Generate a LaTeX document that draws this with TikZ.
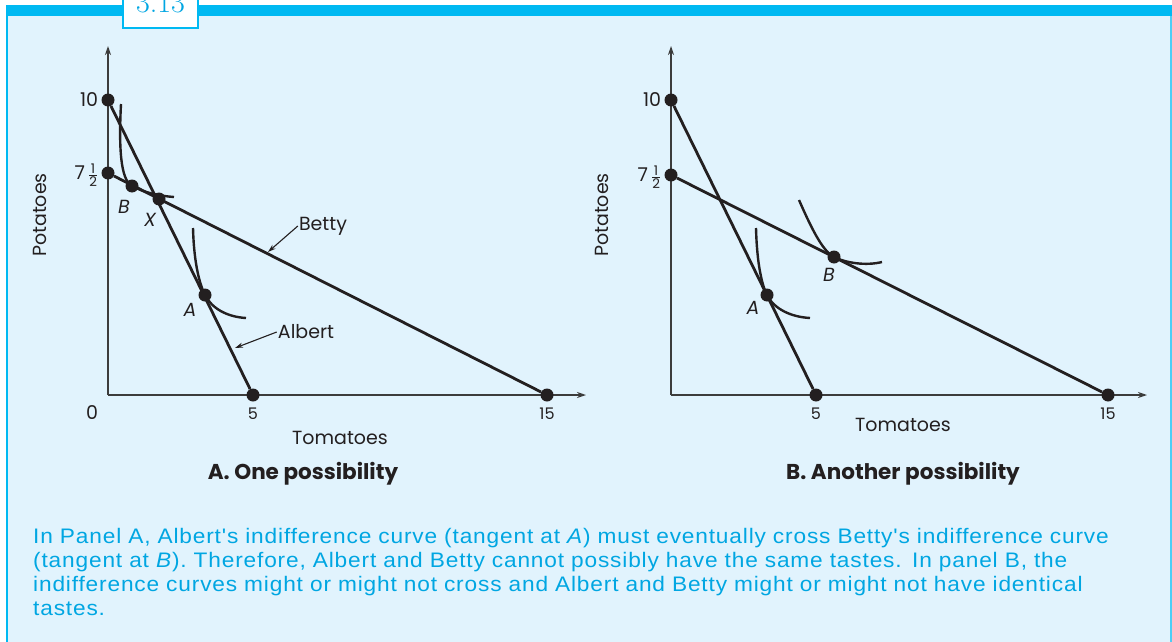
\documentclass[tikz,border=0pt]{standalone}
\usepackage{fontspec}
\usepackage{amsmath}
\usetikzlibrary{arrows.meta, positioning}
\newfontfamily\geofont{Poppins}
\newfontfamily\capfont[FakeStretch=1.08, LetterSpace=4]{Liberation Sans}
\definecolor{panelbg}{HTML}{E1F3FD}
\definecolor{bandcyan}{HTML}{00B9F2}
\definecolor{capcyan}{HTML}{00A6E2}
\definecolor{ink}{HTML}{231F20}
\definecolor{axgray}{HTML}{3C3C3C}
\tikzset{
  dot/.style   ={circle, fill=ink, inner sep=0pt, minimum size=13pt},
  budget/.style={line width=2.8pt, draw=ink},
  indiff/.style={line width=2.4pt, draw=ink},
  axis/.style  ={line width=1.4pt, draw=axgray, -{Stealth[length=9pt, width=6pt]}},
  lblarr/.style={line width=1.1pt, draw=ink, -{Stealth[length=8pt, width=5pt]}},
  lbl/.style   ={font=\geofont\fontsize{19}{21}\selectfont, text=ink, inner sep=1pt},
  ticklbl/.style={lbl, font=\geofont\fontsize{16}{18}\selectfont},
  ptlbl/.style ={font=\geofont\itshape\fontsize{19}{21}\selectfont, text=ink, inner sep=1pt},
  title/.style ={font=\geofont\bfseries\fontsize{21.5}{23}\selectfont, text=ink},
  caption/.style={font=\capfont\fontsize{21}{24}\selectfont, text=capcyan,
                  align=left, inner sep=0pt, text width=1135pt}
}

\begin{document}
\begin{tikzpicture}[x=1pt, y=-1pt]
  \useasboundingbox (0,0) rectangle (1172,642);
  % frame
  \fill[panelbg] (6,16) rectangle (1172,642);
  \fill[bandcyan] (6,5) rectangle (1172,16);
  \draw[bandcyan, line width=1.5pt] (6.75,16) -- (6.75,642);
  \draw[bandcyan!70, line width=1.5pt] (1171.2,16) -- (1171.2,642);
  \node[draw=bandcyan, fill=white, line width=1.2pt, minimum width=75pt,
        minimum height=34pt, inner sep=0pt] (figbox) at (160.5,11) {};
  \node[text=capcyan, font=\fontsize{30}{30}\selectfont, anchor=base] (fignum) at (160.5,13) {3.13};

  % ---- panel A ----
  \coordinate (aO) at (108,395);
  \draw[axis] (aO) -- (108,46);
  \draw[axis] (aO) -- (586,395);
  \node[dot] (aTen) at (108,100) {};
  \node[dot] (aSeven) at (108,173) {};
  \node[dot] (aFive) at (253,395) {};
  \node[dot] (aFifteen) at (547,395) {};
  \node[dot] (aX) at (159,199) {};
  \node[dot] (aB) at (132,186) {};
  \node[dot] (aA) at (205,295) {};
  \draw[budget] (aTen) -- (aFive);
  \draw[budget] (aSeven) -- (aFifteen);
  \draw[indiff] (121,104) .. controls (118,160) and (123,181) .. (aB.center)
                .. controls (145,193) and (160,196) .. (174,197);
  \draw[indiff] (193,228) .. controls (194,265) and (200,285) .. (aA.center)
                .. controls (212,309) and (228,317) .. (246,318);
  \node[lbl, left=2pt of aTen] (aTenLbl) {10};
  \node[lbl, left=2pt of aSeven, yshift=-2pt] (aSevenLbl) {7\,$\frac{\text{1}}{\text{2}}$};
  \node[lbl] (aZeroLbl) at (92,413) {0};
  \node[ticklbl, below=5pt of aFive] (aFiveLbl) {5};
  \node[ticklbl, below=5pt of aFifteen] (aFifteenLbl) {15};
  \node[lbl] (aXLbl) at (340,438) {Tomatoes};
  \node[lbl, rotate=90] (aYLbl) at (40,215) {Potatoes};
  \node[ptlbl] (aBLbl) at (124,207) {B};
  \node[ptlbl] (aXptLbl) at (150,220) {X};
  \node[ptlbl] (aALbl) at (190,310) {A};
  \node[lbl] (aBetty) at (323,226) {Betty};
  \coordinate (aBettyTip) at (268,252);
  \draw[lblarr] (aBetty.west) -- (aBettyTip);
  \node[lbl] (aAlbert) at (306,332) {Albert};
  \coordinate (aAlbertTip) at (235,348);
  \draw[lblarr] (aAlbert.west) -- (aAlbertTip);
  \node[title] (aTitle) at (303,474) {A. One possibility};

  % ---- panel B ----
  \coordinate (bO) at (671,395);
  \draw[axis] (bO) -- (671,46);
  \draw[axis] (bO) -- (1147,395);
  \node[dot] (bTen) at (671,100) {};
  \node[dot] (bSeven) at (671,175) {};
  \node[dot] (bFive) at (816,395) {};
  \node[dot] (bFifteen) at (1108,395) {};
  \node[dot] (bA) at (767,295) {};
  \node[dot] (bB) at (834,257) {};
  \draw[budget] (bTen) -- (bFive);
  \draw[budget] (bSeven) -- (bFifteen);
  \draw[indiff] (756,228) .. controls (757,265) and (762,285) .. (bA.center)
                .. controls (774,309) and (791,317) .. (810,318);
  \draw[indiff] (799,200) .. controls (810,225) and (822,251) .. (bB.center)
                .. controls (846,263) and (866,266) .. (882,262);
  \node[lbl, left=2pt of bTen] (bTenLbl) {10};
  \node[lbl, left=2pt of bSeven, yshift=-2pt] (bSevenLbl) {7\,$\frac{\text{1}}{\text{2}}$};
  \node[ticklbl, below=5pt of bFive] (bFiveLbl) {5};
  \node[ticklbl, below=5pt of bFifteen] (bFifteenLbl) {15};
  \node[lbl] (bXLbl) at (903,425) {Tomatoes};
  \node[lbl, rotate=90] (bYLbl) at (602,215) {Potatoes};
  \node[ptlbl] (bALbl) at (753,308) {A};
  \node[ptlbl] (bBLbl) at (829,275) {B};
  \node[title] (bTitle) at (903,474) {B. Another possibility};

  % caption
  \node[caption, anchor=north west] (note) at (33,528) {In Panel A, Albert's indifference curve (tangent at \textit{A}) must eventually cross Betty's indifference curve\\
    (tangent at \textit{B}). Therefore, Albert and Betty cannot possibly have the same tastes. In panel B, the\\
    indifference curves might or might not cross and Albert and Betty might or might not have identical\\
    tastes.};
\end{tikzpicture}
\end{document}
